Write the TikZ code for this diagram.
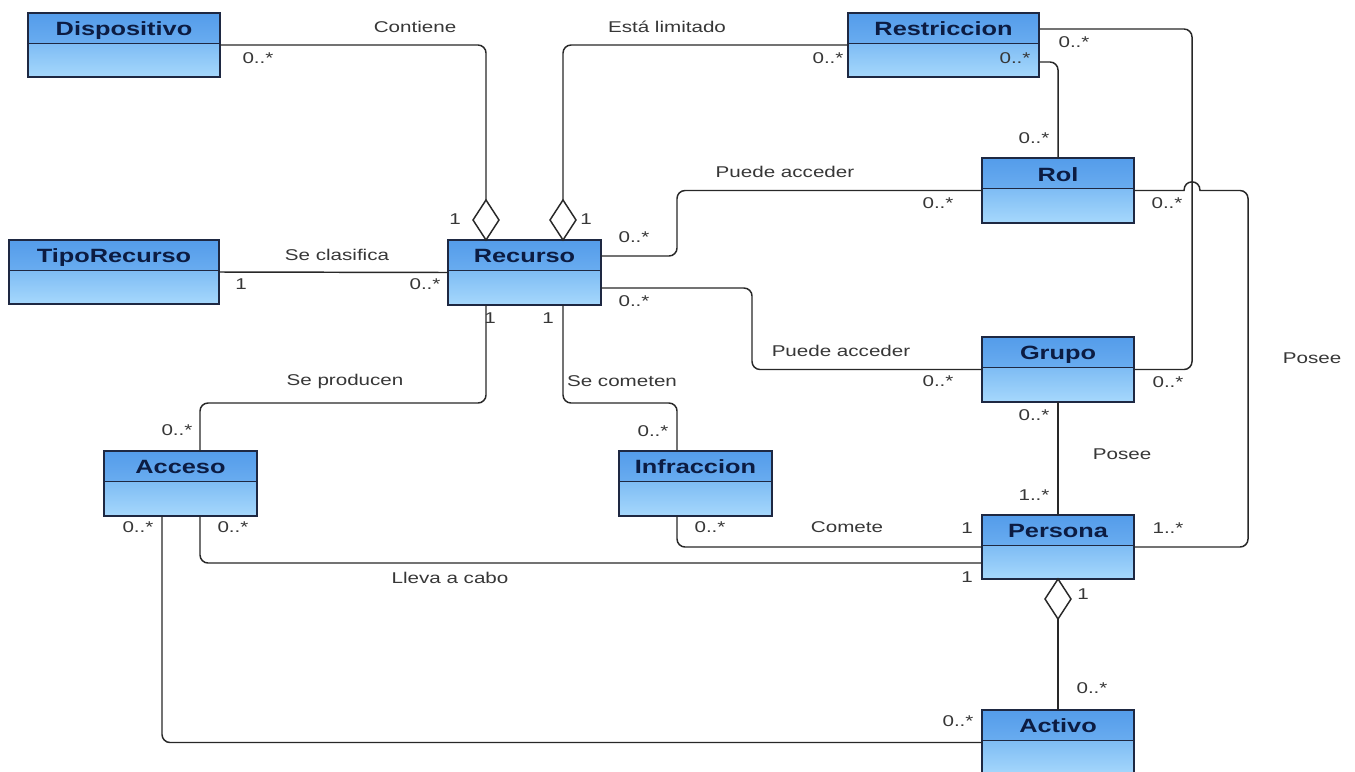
\documentclass[tikz,border=0pt]{standalone}
\usepackage{fontspec}
\setmainfont{Liberation Sans}[FakeStretch=1.32]
\usetikzlibrary{shapes.geometric}

\definecolor{hdtop}{RGB}{84,156,234}
\definecolor{hdbot}{RGB}{128,190,246}
\definecolor{bdtop}{RGB}{126,188,244}
\definecolor{bdbot}{RGB}{166,216,252}
\definecolor{boxline}{RGB}{30,40,66}
\definecolor{namecol}{RGB}{12,28,66}
\definecolor{linecol}{RGB}{40,40,40}
\definecolor{txtcol}{RGB}{55,55,55}

\begin{document}
\begin{tikzpicture}[x=0.75pt,y=-0.75pt,
  cls/.style={draw=boxline, line width=1.1pt, inner sep=0pt, outer sep=0pt,
    anchor=north west, minimum height=65*0.75pt,
    path picture={
      \fill[top color=hdtop,bottom color=hdbot]
        (path picture bounding box.north west) rectangle
        ([yshift=-30.5*0.75pt]path picture bounding box.north east);
      \fill[top color=bdtop,bottom color=bdbot]
        ([yshift=-30.5*0.75pt]path picture bounding box.north west) rectangle
        (path picture bounding box.south east);
      \draw[boxline, line width=1.1pt]
        ([yshift=-30.5*0.75pt]path picture bounding box.north west) --
        ([yshift=-30.5*0.75pt]path picture bounding box.north east);
    }},
  clsname/.style={text=namecol, font=\fontsize{14.4}{16}\selectfont\bfseries,
    inner sep=0pt, anchor=base},
  lbl/.style={text=txtcol, font=\fontsize{11.7}{13}\selectfont, inner sep=0pt},
  assoc/.style={draw=linecol, line width=1.1pt, rounded corners=6pt},
  agg/.style={diamond, draw=linecol, fill=white, line width=1.1pt, inner sep=0pt,
    outer sep=0pt, minimum width=26*0.75pt, minimum height=40*0.75pt}
]
\useasboundingbox (0,0) rectangle (1355,771);
\clip (0,0) rectangle (1355,771);
\fill[white] (0,0) rectangle (1355,771);

% ---- classes (name baseline 23px below the top edge) ----
\node[cls, minimum width=192*0.75pt, minimum height=64*0.75pt] (disp) at (28,13) {};
\node[clsname] (disp-n) at ([yshift=-22.5*0.75pt]disp.north) {Dispositivo};

\node[cls, minimum width=210*0.75pt, minimum height=64*0.75pt] (tipo) at (9,240) {};
\node[clsname] (tipo-n) at ([yshift=-22.5*0.75pt]tipo.north) {TipoRecurso};

\node[cls, minimum width=153*0.75pt] (rec) at (448,240) {};
\node[clsname] (rec-n) at ([yshift=-22.5*0.75pt]rec.north) {Recurso};

\node[cls, minimum width=191*0.75pt, minimum height=64*0.75pt] (restr) at (848,13) {};
\node[clsname] (restr-n) at ([yshift=-22.5*0.75pt]restr.north) {Restriccion};

\node[cls, minimum width=152*0.75pt] (rol) at (982,158) {};
\node[clsname] (rol-n) at ([yshift=-23*0.75pt]rol.north) {Rol};

\node[cls, minimum width=152*0.75pt] (grupo) at (982,337) {};
\node[clsname] (grupo-n) at ([yshift=-22.5*0.75pt]grupo.north) {Grupo};

\node[cls, minimum width=153*0.75pt] (acc) at (104,451) {};
\node[clsname] (acc-n) at ([yshift=-22.5*0.75pt]acc.north) {Acceso};

\node[cls, minimum width=153*0.75pt] (infr) at (619,451) {};
\node[clsname] (infr-n) at ([yshift=-22.5*0.75pt]infr.north) {Infraccion};

\node[cls, minimum width=152*0.75pt, minimum height=64*0.75pt] (pers) at (982,515) {};
\node[clsname] (pers-n) at ([yshift=-22.5*0.75pt]pers.north) {Persona};

\node[cls, minimum width=152*0.75pt] (act) at (982,710) {};
\node[clsname] (act-n) at ([yshift=-22.5*0.75pt]act.north) {Activo};

% ---- aggregation diamonds ----
\node[agg, anchor=south] (d1) at ([xshift=-38.5*0.75pt]rec.north) {};
\node[agg, anchor=south] (d2) at ([xshift=38.5*0.75pt]rec.north) {};
\node[agg, anchor=north] (d3) at (pers.south) {};

% ---- associations ----
\draw[assoc] (disp.east) -| (d1.north);
\draw[assoc] (d2.north) |- (restr.west);
\draw[assoc] ([yshift=16*0.75pt]restr.east) -- ++(153,0) |- (grupo.east);
\draw[assoc] ([yshift=-17*0.75pt]restr.east) -| (rol.north);
\draw[assoc] ([yshift=16.5*0.75pt]rec.east) -- ++(76,0) |- (rol.west);
\draw[assoc] ([yshift=-15.5*0.75pt]rec.east) -- ++(151,0) |- (grupo.west);
% Rol -- Persona, hopping over the Restriccion -- Grupo line
\draw[assoc, sharp corners] (rol.east) -- (1184,190.5)
  .. controls (1184,179) and (1200,179) .. (1200,190.5)
  [rounded corners=6pt] -- (1248,190.5) |- (pers.east);
\draw[assoc] (grupo.south) -- (pers.north);
\draw[assoc] (d3.south) -- (act.north);
\draw[assoc] (tipo.east) -- (rec.west);
\draw[assoc] ([xshift=-38.5*0.75pt]rec.south) -- ++(0,98) -| ([xshift=19.5*0.75pt]acc.north);
\draw[assoc] ([xshift=38.5*0.75pt]rec.south) -- ++(0,98) -| ([xshift=-18.5*0.75pt]infr.north);
\draw[assoc] ([xshift=-18.5*0.75pt]infr.south) |- (pers.west);
\draw[assoc] ([xshift=19.5*0.75pt]acc.south) |- ([yshift=-16*0.75pt]pers.west);
\draw[assoc] ([xshift=-18.5*0.75pt]acc.south) |- (act.west);

% ---- association names ----
\node[lbl] (n-cont) at (415,27) {Contiene};
\node[lbl] (n-lim) at (667,27) {Está limitado};
\node[lbl] (n-pa1) at (785,172) {Puede acceder};
\node[lbl] (n-pa2) at (841,351) {Puede acceder};
\node[lbl] (n-clas) at (337,255) {Se clasifica};
\node[lbl] (n-prod) at (345,381) {Se producen};
\node[lbl] (n-com) at (622,381) {Se cometen};
\node[lbl] (n-pos1) at (1122,454) {Posee};
\node[lbl] (n-pos2) at (1312,358) {Posee};
\node[lbl] (n-comete) at (847,527) {Comete};
\node[lbl] (n-lleva) at (450,578) {Lleva a cabo};

% ---- multiplicities ----
\node[lbl] (m1) at (258,58) {0..*};
\node[lbl] (m2) at (455,219) {1};
\node[lbl] (m3) at (586,219) {1};
\node[lbl] (m4) at (828,58) {0..*};
\node[lbl] (m5) at (1074,42) {0..*};
\node[lbl] (m6) at (1015,58) {0..*};
\node[lbl] (m7) at (1034,138) {0..*};
\node[lbl] (m8) at (634,237) {0..*};
\node[lbl] (m9) at (938,203) {0..*};
\node[lbl] (m10) at (1167,203) {0..*};
\node[lbl] (m11) at (634,301) {0..*};
\node[lbl] (m12) at (938,381) {0..*};
\node[lbl] (m13) at (1168,382) {0..*};
\node[lbl] (m14) at (1034,415) {0..*};
\node[lbl] (m15) at (1034,495) {1..*};
\node[lbl] (m16) at (1168,528) {1..*};
\node[lbl] (m17) at (967,528) {1};
\node[lbl] (m18) at (967,577) {1};
\node[lbl] (m19) at (241,284) {1};
\node[lbl] (m20) at (425,284) {0..*};
\node[lbl] (m21) at (490,318) {1};
\node[lbl] (m22) at (548,318) {1};
\node[lbl] (m23) at (177,430) {0..*};
\node[lbl] (m24) at (653,431) {0..*};
\node[lbl] (m25) at (138,527) {0..*};
\node[lbl] (m26) at (233,527) {0..*};
\node[lbl] (m27) at (710,527) {0..*};
\node[lbl] (m28) at (1083,594) {1};
\node[lbl] (m29) at (1092,688) {0..*};
\node[lbl] (m30) at (958,721) {0..*};
\end{tikzpicture}
\end{document}
